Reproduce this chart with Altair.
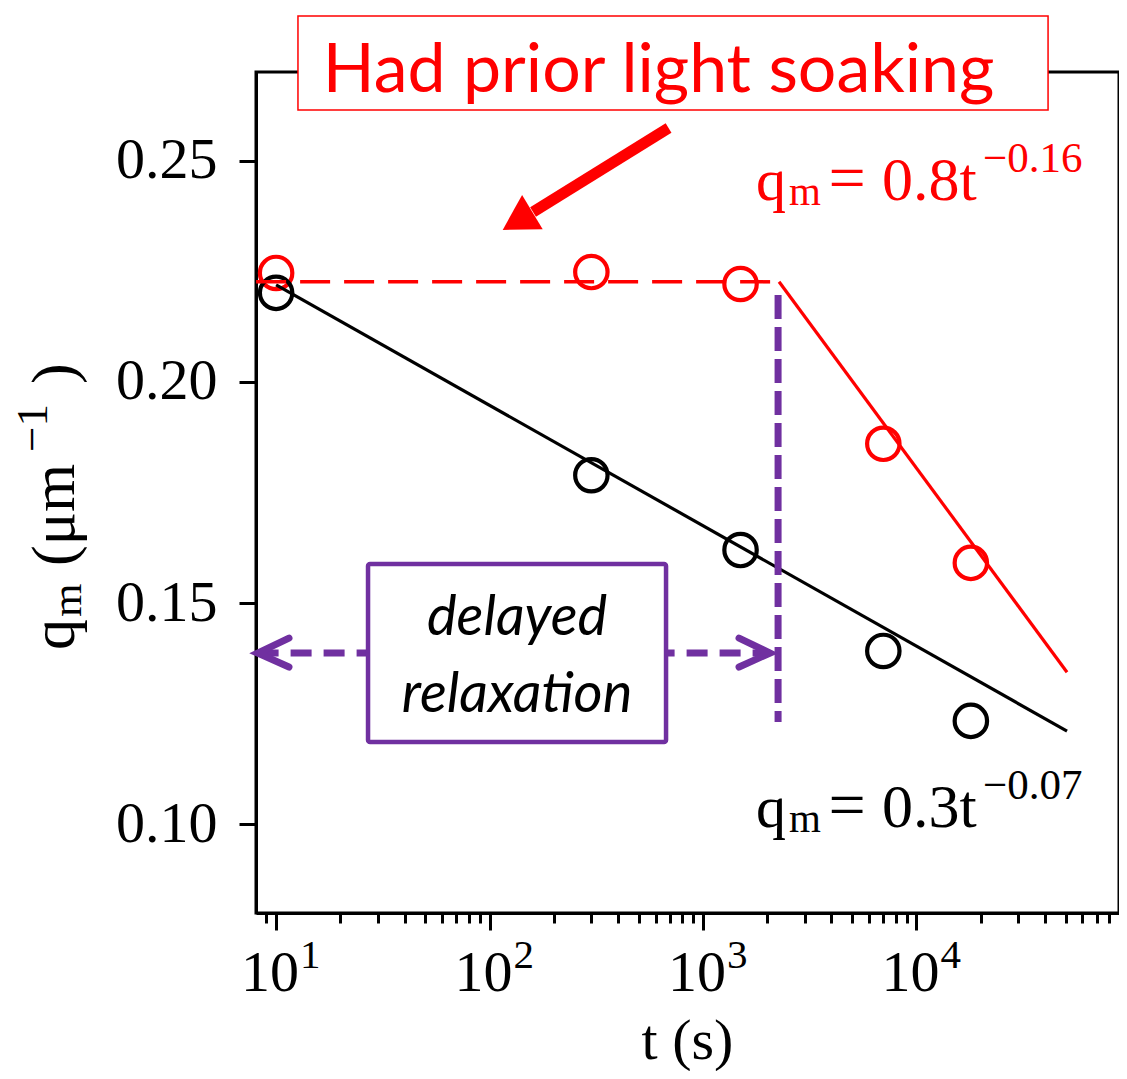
import altair as alt
import pandas as pd

# ---------------- data ----------------
t_meas = [10, 300, 1500, 7000, 18000]
q_soaked = [0.2246, 0.2248, 0.2221, 0.1860, 0.1591]   # red: had prior light soaking
q_fresh = [0.2201, 0.1789, 0.1620, 0.1392, 0.1234]    # black

fit_black_t = [10, 50800]
fit_black_q = [0.2219, 0.1211]
plateau_t = [8.06, 2273]
plateau_q = [0.2226, 0.2226]
fit_red_t = [2273, 50800]
fit_red_q = [0.2226, 0.1344]

x_major = [10, 100, 1000, 10000]
x_major_exp = ["1", "2", "3", "4"]
x_minor = [8, 9, 20, 30, 40, 50, 60, 70, 80, 90, 200, 300, 400, 500, 600, 700, 800, 900,
           2000, 3000, 4000, 5000, 6000, 7000, 8000, 9000,
           20000, 30000, 40000, 50000, 60000, 70000, 80000]
y_ticks = [0.10, 0.15, 0.20, 0.25]

# ---------------- layout ----------------
W, H = 863, 841
SERIF = "Liberation Serif"
SANS = "Lato"
RED = "#FF0000"
PURPLE = "#7030A0"

xs = alt.Scale(type="log", domain=[8.05, 89000], nice=False)
ys = alt.Scale(type="linear", domain=[0.08, 0.27], nice=False, zero=False)

major_test = "indexof([" + ",".join(str(v) for v in x_major) + "], datum.value) >= 0"

x_axis = alt.Axis(
    values=sorted(x_minor + x_major), labels=False, title=None, grid=False,
    tickSize={"condition": {"test": major_test, "value": 17}, "value": 10},
    tickWidth=3, tickColor="black", domainColor="black", domainWidth=3,
)
y_axis = alt.Axis(
    values=y_ticks, format=".2f", title=None, grid=False,
    labelFont=SERIF, labelFontSize=58, labelColor="black", labelPadding=22,
    tickSize=17, tickWidth=3, tickColor="black", domainColor="black", domainWidth=3,
)


def X(f="t"):
    return alt.X(f"{f}:Q", scale=xs, axis=x_axis)


def Y(f="q"):
    return alt.Y(f"{f}:Q", scale=ys, axis=y_axis)


pts = pd.DataFrame({
    "t": t_meas * 2,
    "q": q_soaked + q_fresh,
    "s": ["soaked"] * len(t_meas) + ["fresh"] * len(t_meas),
})
col = alt.Color("s:N", scale=alt.Scale(domain=["soaked", "fresh"], range=[RED, "black"]), legend=None)

# lines
black_fit = alt.Chart(pd.DataFrame({"t": fit_black_t, "q": fit_black_q})).mark_line(
    color="black", strokeWidth=3.2).encode(x=X(), y=Y())
red_plateau = alt.Chart(pd.DataFrame({"t": plateau_t, "q": plateau_q})).mark_line(
    color=RED, strokeWidth=3.5, strokeDash=[30, 14]).encode(x=X(), y=Y())
red_fit = alt.Chart(pd.DataFrame({"t": fit_red_t, "q": fit_red_q})).mark_line(
    color=RED, strokeWidth=3.2).encode(x=X(), y=Y())

# purple vertical dashed line
pv = alt.Chart(pd.DataFrame({"t": [2249], "q": [0.21962], "q2": [0.12314]})).mark_rule(
    color=PURPLE, strokeWidth=7, strokeDash=[24, 8]).encode(x=X(), y=Y(), y2="q2:Q")

# purple horizontal double arrow
ph = alt.Chart(pd.DataFrame({"t": [8.19, 2063], "q": [0.13873, 0.13873]})).mark_line(
    color=PURPLE, strokeWidth=7, strokeDash=[21, 12]).encode(x=X(), y=Y())
chev = pd.DataFrame({
    "t": [11.49, 8.19, 11.49, 1476, 2063, 1476],
    "q": [0.14212, 0.13873, 0.13557, 0.14212, 0.13873, 0.13557],
    "i": [0, 1, 2, 0, 1, 2],
    "side": ["l", "l", "l", "r", "r", "r"],
})
chevrons = alt.Chart(chev).mark_line(
    color=PURPLE, strokeWidth=7, strokeCap="round", strokeJoin="miter").encode(
    x=X(), y=Y(), order="i:Q", detail="side:N")

box = alt.Chart(pd.DataFrame({"t": [26.96], "t2": [671.5], "q": [0.15884], "q2": [0.11862]})).mark_rect(
    fill="white", stroke=PURPLE, strokeWidth=4.5, cornerRadius=2).encode(
    x=X(), x2="t2:Q", y=Y(), y2="q2:Q")
box_txt = alt.Chart(pd.DataFrame({"t": [134.6, 134.6], "q": [0.1428, 0.1254],
                                  "txt": ["delayed", "relaxation"]})).mark_text(
    font=SANS, fontStyle="italic", fontSize=56, color="black", align="center",
    baseline="alphabetic").encode(x=X(), y=Y(), text="txt:N")

# points
points = alt.Chart(pts).mark_point(shape="circle", size=1050, strokeWidth=4.2, filled=False,
                                   opacity=1).encode(
    x=X(), y=Y(), color=col,
)

# banner
banner = alt.Chart(pd.DataFrame({"t": [12.66], "t2": [41400], "q": [0.28265], "q2": [0.26141]})).mark_rect(
    fill="white", stroke=RED, strokeWidth=1.5).encode(x=X(), x2="t2:Q", y=Y(), y2="q2:Q")
banner_txt = alt.Chart(pd.DataFrame({"t": [619.5], "q": [0.2655], "txt": ["Had prior light soaking"]})).mark_text(
    font=SANS, fontSize=68, color=RED, align="center", baseline="alphabetic").encode(
    x=X(), y=Y(), text="txt:N")

# red arrow
arrow_shaft = alt.Chart(pd.DataFrame({"t": [690, 159.9], "q": [0.25735, 0.23837]})).mark_line(
    color=RED, strokeWidth=11).encode(x=X(), y=Y())
arrow_head = alt.Chart(pd.DataFrame({"t": [135.3], "q": [0.23634]})).mark_point(
    shape="triangle-up", size=1600, filled=True, color=RED, opacity=1, angle=239).encode(x=X(), y=Y())

# equations
eq_t = 1774


def equation(q, coef, expo, color):
    d = pd.DataFrame({"t": [eq_t], "q": [q]})
    base = alt.Chart(d)
    enc = dict(x=X(), y=Y())
    common = dict(font=SERIF, color=color, baseline="alphabetic")
    return [
        base.mark_text(text="q", fontSize=60, align="left", dx=0, **common).encode(**enc),
        base.mark_text(text="m", fontSize=41, align="left", dx=33, dy=5, **common).encode(**enc),
        base.mark_text(text="=", fontSize=66, align="center", dx=91, **common).encode(**enc),
        base.mark_text(text=coef + "t", fontSize=62, align="left", dx=126, **common).encode(**enc),
        base.mark_text(text=expo, fontSize=43, align="left", dx=227, dy=-28, **common).encode(**enc),
    ]


eq_red = equation(0.2411, "0.8", "\u22120.16", RED)
eq_black = equation(0.0995, "0.3", "\u22120.07", "black")

# x tick labels 10^k
xl = pd.DataFrame({"t": x_major, "base": ["10"] * len(x_major), "exp": x_major_exp})
xl_base = alt.Chart(xl).mark_text(font=SERIF, fontSize=58, color="black", align="right",
                                  baseline="alphabetic", dx=23).encode(
    x=X(), y=alt.value(H + 78), text="base:N")
xl_exp = alt.Chart(xl).mark_text(font=SERIF, fontSize=41, color="black", align="left",
                                 baseline="alphabetic", dx=24).encode(
    x=X(), y=alt.value(H + 55), text="exp:N")

# axis titles
one = pd.DataFrame({"a": [0]})
x_title = alt.Chart(one).mark_text(text="t (s)", font=SERIF, fontSize=58, color="black",
                                   align="center", baseline="alphabetic").encode(
    x=alt.value(W / 2), y=alt.value(H + 146))

ty_x, ty_y = -182, 578
y_title_parts = [
    ("q", 62, 0, 0),
    ("m", 43, 33, 7),
    ("(\u03bcm", 62, 84, 0),
    ("\u22121", 45, 198, -27),
    (")", 62, 266, 0),
]
y_title = [
    alt.Chart(one).mark_text(text=s, font=SERIF, fontSize=fs, color="black", align="left",
                             baseline="alphabetic", angle=270, dx=dx, dy=dy).encode(
        x=alt.value(ty_x), y=alt.value(ty_y))
    for s, fs, dx, dy in y_title_parts
]

chart = alt.layer(
    points,
    black_fit, red_plateau, red_fit,
    pv, ph, chevrons, box, box_txt,
    *eq_red, *eq_black,
    banner, banner_txt, arrow_shaft, arrow_head,
    xl_base, xl_exp, x_title, *y_title,
).properties(
    width=W, height=H,
    autosize=alt.AutoSizeParams(type="none"),
    padding={"left": 248, "top": 64, "right": 0, "bottom": 158},
).configure_view(stroke="black", strokeWidth=3)

chart.save("out.html", embed_options={"renderer": "svg", "actions": False})
